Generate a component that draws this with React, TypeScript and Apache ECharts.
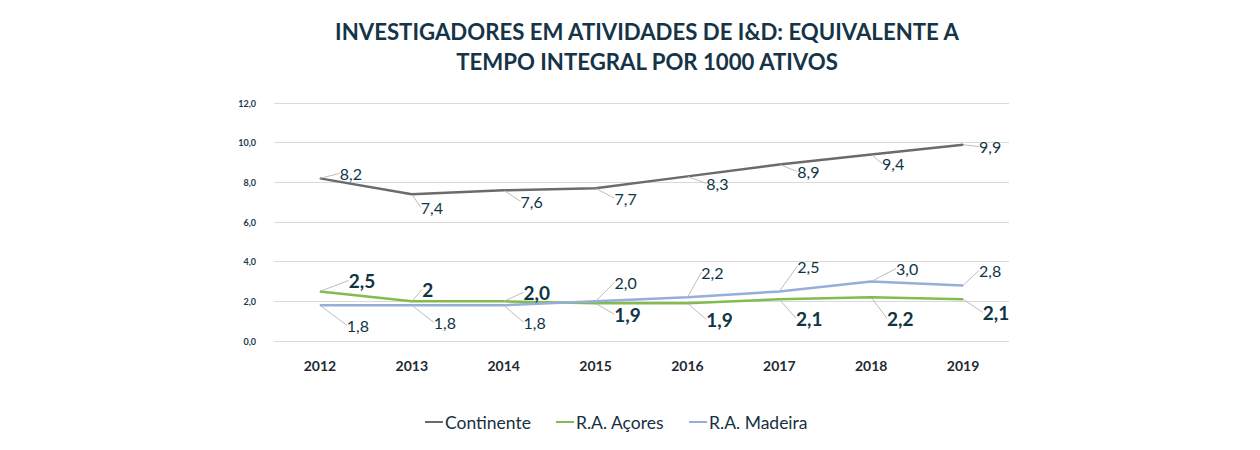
import React, { useEffect, useRef } from "react";
import * as echarts from "echarts";

const years = ["2012", "2013", "2014", "2015", "2016", "2017", "2018", "2019"];
const continente = [8.2, 7.4, 7.6, 7.7, 8.3, 8.9, 9.4, 9.9];
const acores = [2.5, 2.0, 2.0, 1.9, 1.9, 2.1, 2.2, 2.1];
const acoresLabels = ["2,5", "2", "2,0", "1,9", "1,9", "2,1", "2,2", "2,1"];
const madeira = [1.8, 1.8, 1.8, 2.0, 2.2, 2.5, 3.0, 2.8];
const yTicks = { min: 0, max: 12, interval: 2 };

// label offsets (style) relative to each point
const offC = [[31, -5], [20, 13], [28, 11], [30, 10], [30, 7], [29, 7], [22, 9], [27, 2]];
const offA = [[42, -11], [16, -12], [33, -9], [32, 11], [32, 16], [30, 19], [29, 21], [33, 13]];
const offM = [[38, 20], [33, 17], [31, 17], [30, -19], [25, -25], [29, -25], [36, -13], [27, -15]];
const offsets = [offC, offA, offM];

const fmt = (v: number) => v.toFixed(1).replace(".", ",");

export default function App() {
  const ref = useRef<HTMLDivElement>(null);
  useEffect(() => {
    if (!ref.current) return;
    const chart = echarts.init(ref.current, null, { renderer: "svg" });
    const labelColor = "#0f3545";
    const guide = { show: true, lineStyle: { color: "#bdbdbd", width: 1 } };
    chart.setOption({
      animation: false,
      backgroundColor: "#ffffff",
      title: {
        text: "INVESTIGADORES EM ATIVIDADES DE I&D: EQUIVALENTE A\nTEMPO INTEGRAL POR 1000 ATIVOS",
        left: 642,
        textAlign: "center",
        top: 11,
        textStyle: {
          fontFamily: "Lato",
          fontWeight: "bold",
          fontSize: 22.2,
          lineHeight: 30,
          color: "#163447",
        },
      },
      legend: {
        bottom: 14,
        left: 420,
        itemWidth: 18,
        itemHeight: 2,
        itemGap: 25,
        icon: "rect",
        textStyle: { fontFamily: "Lato", fontSize: 17.5, color: "#173040", padding: [0, 0, 0, -3] },
        data: ["Continente", "R.A. Açores", "R.A. Madeira"],
      },
      grid: { left: 274, right: 251, top: 103, bottom: 109 },
      xAxis: {
        type: "category",
        data: years,
        boundaryGap: true,
        axisLine: { show: false },
        axisTick: { show: false },
        axisLabel: {
          margin: 17,
          fontFamily: "Lato",
          fontWeight: "bold",
          fontSize: 14,
          color: "#1e2a33",
        },
      },
      yAxis: {
        type: "value",
        min: yTicks.min,
        max: yTicks.max,
        interval: yTicks.interval,
        axisLine: { show: false },
        axisTick: { show: false },
        splitLine: { lineStyle: { color: "#d9d9d9", width: 1 } },
        axisLabel: {
          margin: 18,
          fontFamily: "Lato",
          fontWeight: "bold",
          fontSize: 9,
          color: "#1c3a4a",
          formatter: (v: number) => fmt(v),
        },
      },
      series: [
        {
          name: "Continente",
          type: "line",
          data: continente,
          symbol: "circle",
          symbolSize: 1,
          lineStyle: { color: "#6b6b6b", width: 2.5 },
          itemStyle: { color: "#6b6b6b" },
          label: {
            show: true,
            position: "inside",
            fontFamily: "Lato",
            fontSize: 16,
            color: labelColor,
            formatter: (p: any) => fmt(p.value),
          },
          labelLine: guide,
        },
        {
          name: "R.A. Açores",
          type: "line",
          data: acores,
          symbol: "circle",
          symbolSize: 1,
          lineStyle: { color: "#82bb4f", width: 2.5 },
          itemStyle: { color: "#82bb4f" },
          label: {
            show: true,
            position: "inside",
            fontFamily: "Lato",
            fontWeight: "bold",
            fontSize: 19,
            color: labelColor,
            formatter: (p: any) => acoresLabels[p.dataIndex],
          },
          labelLine: guide,
        },
        {
          name: "R.A. Madeira",
          type: "line",
          data: madeira,
          symbol: "circle",
          symbolSize: 1,
          lineStyle: { color: "#97aed8", width: 2.5 },
          itemStyle: { color: "#97aed8" },
          label: {
            show: true,
            position: "inside",
            fontFamily: "Lato",
            fontSize: 16,
            color: labelColor,
            formatter: (p: any) => fmt(p.value),
          },
          labelLine: guide,
        },
      ],
      labelLayout: (p: any) => {
        const o = offsets[p.seriesIndex][p.dataIndex];
        return { dx: o[0], dy: o[1] };
      },
    });
    return () => chart.dispose();
  }, []);
  return (
    <div
      ref={ref}
      style={{ position: "fixed", left: 0, top: 0, width: 1260, height: 450 }}
    />
  );
}
